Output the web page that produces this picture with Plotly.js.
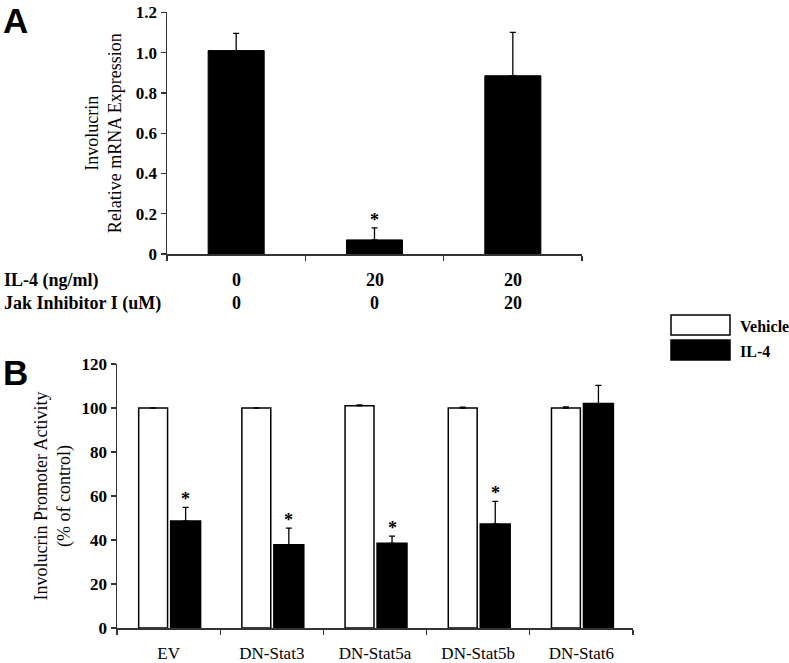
<!DOCTYPE html>
<html>
<head>
<meta charset="utf-8">
<script src="https://cdn.plot.ly/plotly-3.0.1.min.js"></script>
<style>html,body{margin:0;padding:0;background:#fff;}#chart{width:789px;height:663px;}</style>
</head>
<body>
<div id="chart"></div>
<script>
// ---- Panel A data ----
const catsA = ['c1', 'c2', 'c3'];
const il4Dose = ['0', '20', '20'];
const jakDose = ['0', '0', '20'];
const rowLabelsA = ['IL-4 (ng/ml)', 'Jak Inhibitor I (uM)'];
const valuesA = [1.01, 0.07, 0.885];
const errorsA = [0.085, 0.06, 0.215];
const sigA = [false, true, false];
const tickValsA = [0, 0.2, 0.4, 0.6, 0.8, 1.0, 1.2];
const tickTextA = ['0', '0.2', '0.4', '0.6', '0.8', '1.0', '1.2'];

// ---- Panel B data ----
const catsB = ['EV', 'DN-Stat3', 'DN-Stat5a', 'DN-Stat5b', 'DN-Stat6'];
const seriesNames = ['Vehicle', 'IL-4'];
const vehicle = [100, 100, 101, 100, 100];
const vehicleErr = [0, 0, 0.4, 0.4, 0.5];
const il4 = [48.6, 37.8, 38.5, 47.3, 102];
const il4Err = [6.2, 7.6, 3.3, 10.3, 8.3];
const sigB = [true, true, true, true, false];
const tickValsB = [0, 20, 40, 60, 80, 100, 120];

const W = 789, H = 663;
const px = v => v / W;
const py = v => (H - v) / H;
const serif = 'Liberation Serif, Times New Roman, serif';
const axisCol = '#333';

const traces = [
  {
    type: 'bar', x: catsA, y: valuesA, xaxis: 'x', yaxis: 'y',
    width: 0.405,
    marker: {color: '#000', line: {color: '#000', width: 1}},
    error_y: {type: 'data', symmetric: false, array: errorsA, arrayminus: errorsA.map(() => 0),
              color: '#000', thickness: 1.3, width: 3},
    hoverinfo: 'skip'
  },
  {
    type: 'bar', name: seriesNames[0], x: catsB, y: vehicle, xaxis: 'x2', yaxis: 'y2',
    offset: -0.29, width: 0.28,
    marker: {color: '#fff', line: {color: '#000', width: 1.5}},
    error_y: {type: 'data', symmetric: false, array: vehicleErr, arrayminus: vehicleErr.map(() => 0),
              color: '#000', thickness: 1.3, width: 3},
    hoverinfo: 'skip'
  },
  {
    type: 'bar', name: seriesNames[1], x: catsB, y: il4, xaxis: 'x2', yaxis: 'y2',
    offset: 0.02, width: 0.29,
    marker: {color: '#000', line: {color: '#000', width: 1.5}},
    error_y: {type: 'data', symmetric: false, array: il4Err, arrayminus: il4Err.map(() => 0),
              color: '#000', thickness: 1.3, width: 3},
    hoverinfo: 'skip'
  }
];

const annotations = [];
// panel letters
annotations.push({text: 'A', xref: 'paper', yref: 'paper', x: px(2), y: 1, xanchor: 'left', yanchor: 'top',
  borderpad: 0, showarrow: false, font: {family: 'Liberation Sans, Arial, sans-serif', size: 35, weight: 'bold', color: '#000'}});
annotations.push({text: 'B', xref: 'paper', yref: 'paper', x: px(2), y: py(352), xanchor: 'left', yanchor: 'top',
  borderpad: 0, showarrow: false, font: {family: 'Liberation Sans, Arial, sans-serif', size: 35, weight: 'bold', color: '#000'}});

// row labels for panel A
const rowY = [280, 303];
rowLabelsA.forEach((t, i) => {
  annotations.push({text: t, xref: 'paper', yref: 'paper', x: px(2), y: py(rowY[i]), xanchor: 'left', yanchor: 'middle',
    showarrow: false, font: {family: serif, size: 18, weight: 'bold', color: '#000'}});
});
[il4Dose, jakDose].forEach((row, i) => {
  row.forEach((t, j) => {
    annotations.push({text: t, xref: 'x', yref: 'paper', x: catsA[j], y: py(rowY[i]), xanchor: 'center', yanchor: 'middle',
      showarrow: false, font: {family: serif, size: 18, weight: 'bold', color: '#000'}});
  });
});

// significance asterisks
sigA.forEach((s, i) => {
  if (s) annotations.push({text: '*', xref: 'x', yref: 'y', x: catsA[i], y: valuesA[i] + errorsA[i],
    yanchor: 'bottom', yshift: -4, showarrow: false, font: {family: serif, size: 18, weight: 'bold', color: '#000'}});
});
sigB.forEach((s, i) => {
  if (s) annotations.push({text: '*', xref: 'x2', yref: 'y2', x: catsB[i], xshift: 0.165 * 103.2,
    y: il4[i] + il4Err[i], yanchor: 'bottom', yshift: -4, showarrow: false,
    font: {family: serif, size: 18, weight: 'bold', color: '#000'}});
});

// legend (boxes + labels)
const legendFills = ['#fff', '#000'];
const legendTop = [315, 340];
const shapes = [];
seriesNames.forEach((n, i) => {
  shapes.push({type: 'rect', xref: 'paper', yref: 'paper', x0: px(671), x1: px(730), y0: py(legendTop[i]), y1: py(legendTop[i] + 20),
    fillcolor: legendFills[i], line: {color: '#000', width: 1.5}});
  annotations.push({text: n, xref: 'paper', yref: 'paper', x: px(738), y: py(legendTop[i] + 11), xanchor: 'left', yanchor: 'middle',
    showarrow: false, font: {family: serif, size: 16, weight: 'bold', color: '#000'}});
});

const layout = {
  width: W, height: H,
  margin: {l: 0, r: 0, t: 0, b: 0},
  paper_bgcolor: '#fff', plot_bgcolor: '#fff',
  showlegend: false,
  barmode: 'overlay',
  xaxis: {
    domain: [px(167), px(582)], anchor: 'y', type: 'category', range: [-0.5, 2.5],
    tickson: 'boundaries', ticks: 'outside', ticklen: 5, tickcolor: axisCol, tickwidth: 1.3,
    showline: true, linecolor: axisCol, linewidth: 1.5, showgrid: false, zeroline: false,
    showticklabels: false, fixedrange: true
  },
  yaxis: {
    domain: [py(254), py(12.3)], anchor: 'x', range: [0, 1.2],
    tickvals: tickValsA, ticktext: tickTextA,
    ticks: 'outside', ticklen: 5, tickcolor: axisCol, tickwidth: 1.3,
    showline: true, linecolor: axisCol, linewidth: 1.5, showgrid: false, zeroline: false,
    tickfont: {family: serif, size: 17, weight: 'bold', color: '#000'},
    title: {text: 'Involucrin<br>Relative mRNA Expression', standoff: 9,
            font: {family: serif, size: 18, color: '#000'}},
    fixedrange: true
  },
  xaxis2: {
    domain: [px(117), px(633)], anchor: 'y2', type: 'category', range: [-0.5, 4.5],
    tickson: 'boundaries', ticks: 'outside', ticklen: 5, tickcolor: axisCol, tickwidth: 1.3,
    showline: true, linecolor: axisCol, linewidth: 1.5, showgrid: false, zeroline: false,
    tickfont: {family: serif, size: 17, color: '#000'}, ticklabelstandoff: 9,
    fixedrange: true
  },
  yaxis2: {
    domain: [py(628), py(364)], anchor: 'x2', range: [0, 120],
    tickvals: tickValsB,
    ticks: 'outside', ticklen: 5, tickcolor: axisCol, tickwidth: 1.3,
    showline: true, linecolor: axisCol, linewidth: 1.5, showgrid: false, zeroline: false,
    tickfont: {family: serif, size: 17, weight: 'bold', color: '#000'},
    title: {text: 'Involucrin Promoter Activity<br>(% of control)', standoff: 6,
            font: {family: serif, size: 18, color: '#000'}},
    fixedrange: true
  },
  annotations: annotations,
  shapes: shapes
};

Plotly.newPlot('chart', traces, layout, {displayModeBar: false, staticPlot: true});
</script>
</body>
</html>
